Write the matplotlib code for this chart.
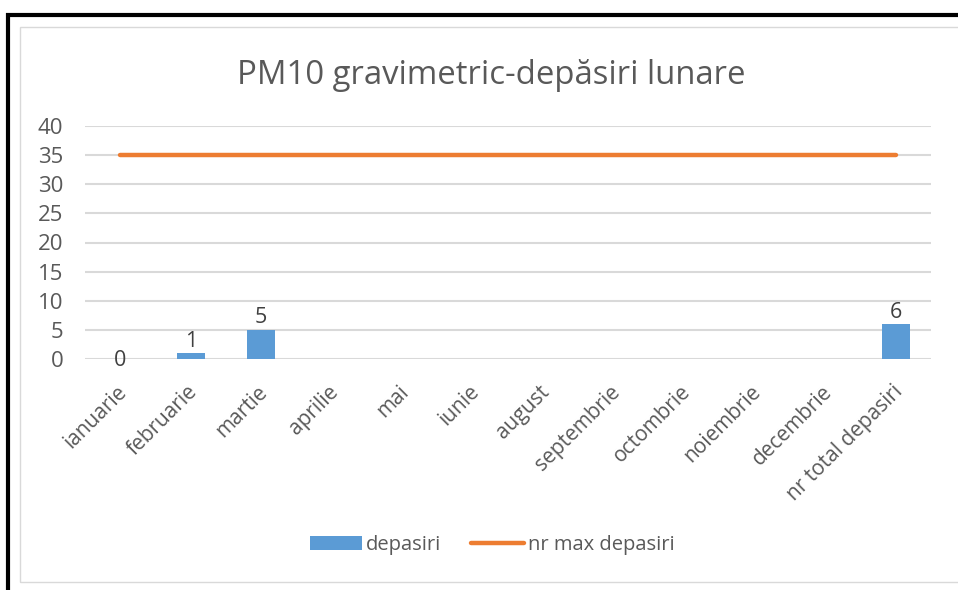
import numpy as np
import matplotlib.pyplot as plt
from matplotlib.lines import Line2D
from matplotlib.patches import Rectangle, Patch
from matplotlib.transforms import ScaledTranslation

# date din grafic
luni = ["ianuarie", "februarie", "martie", "aprilie", "mai", "iunie", "august",
        "septembrie", "octombrie", "noiembrie", "decembrie", "nr total depasiri"]
depasiri = [0, 1, 5, None, None, None, None, None, None, None, None, 6]
nr_max = [35] * len(luni)

plt.rcParams['font.family'] = ['Open Sans', 'DejaVu Sans']

text_gray = "#595959"
label_gray = "#404040"
blue = "#5b9bd5"
orange = "#ed7d31"

fig = plt.figure(figsize=(9.58, 5.90), dpi=100)
W, H = 958, 590

# chenare (negru exterior + gri interior)
fig.add_artist(Rectangle((20 / W, 1 - 582 / H), 960 / W, 555 / H, transform=fig.transFigure,
                         fill=False, edgecolor="#d9d9d9", linewidth=1.0))
fig.add_artist(Line2D([6 / W, 1.0], [1 - 14.5 / H, 1 - 14.5 / H], transform=fig.transFigure,
                      color="black", linewidth=3.0, solid_capstyle="butt"))
fig.add_artist(Line2D([8 / W, 8 / W], [1 - 13 / H, 0], transform=fig.transFigure,
                      color="black", linewidth=3.0, solid_capstyle="butt"))

ax = fig.add_axes([85 / W, 1 - 359 / H, (931 - 85) / W, (359 - 126) / H])

x = np.arange(len(luni))
vals = np.array([np.nan if v is None else v for v in depasiri], dtype=float)
ax.bar(x, vals, width=0.4, color=blue, zorder=3, label="depasiri")
ax.plot(x, nr_max, color=orange, linewidth=3.2, solid_capstyle="round", zorder=4,
        label="nr max depasiri")

for xi, v in zip(x, depasiri):
    if v is None:
        continue
    if v == 0:
        ax.annotate(str(v), (xi, v), xytext=(0, -1), textcoords="offset points",
                    ha="center", va="center", fontsize=15.5, color=label_gray)
    else:
        ax.annotate(str(v), (xi, v), xytext=(0, 1), textcoords="offset points",
                    ha="center", va="bottom", fontsize=15.5, color=label_gray)

ax.set_xlim(-0.5, len(luni) - 0.5)
ax.set_ylim(0, 40)
ax.set_yticks(np.arange(0, 41, 5))
ax.set_xticks(x)
ax.set_xticklabels(luni, rotation=45, ha="right", va="top", rotation_mode="anchor")
ax.tick_params(axis="both", length=0, labelcolor=text_gray)
ax.tick_params(axis="y", pad=15.5, labelsize=16)
ax.tick_params(axis="x", pad=16, labelsize=15)
shift = ScaledTranslation(-4 / 100, 0, fig.dpi_scale_trans)
for lbl in ax.get_xticklabels():
    lbl.set_transform(lbl.get_transform() + shift)
ax.grid(axis="y", color="#d9d9d9", linewidth=1.5, zorder=0)
ax.set_axisbelow(True)
for s in ax.spines.values():
    s.set_visible(False)

fig.text(491.5 / W, 1 - 75 / H, "PM10 gravimetric-depăsiri lunare", ha="center", va="center",
         fontsize=23.7, color=text_gray)

handles = [Patch(facecolor=blue, edgecolor="none"),
           Line2D([0], [0], color=orange, linewidth=3.2, solid_capstyle="round")]
fig.legend(handles, ["depasiri", "nr max depasiri"], loc="center",
           bbox_to_anchor=(492 / W, 1 - 545 / H), ncol=2, frameon=False,
           fontsize=14.5, labelcolor=text_gray, handlelength=2.6, handleheight=0.7,
           handletextpad=0.2, columnspacing=1.5)

fig.savefig("out.png", dpi=100)
